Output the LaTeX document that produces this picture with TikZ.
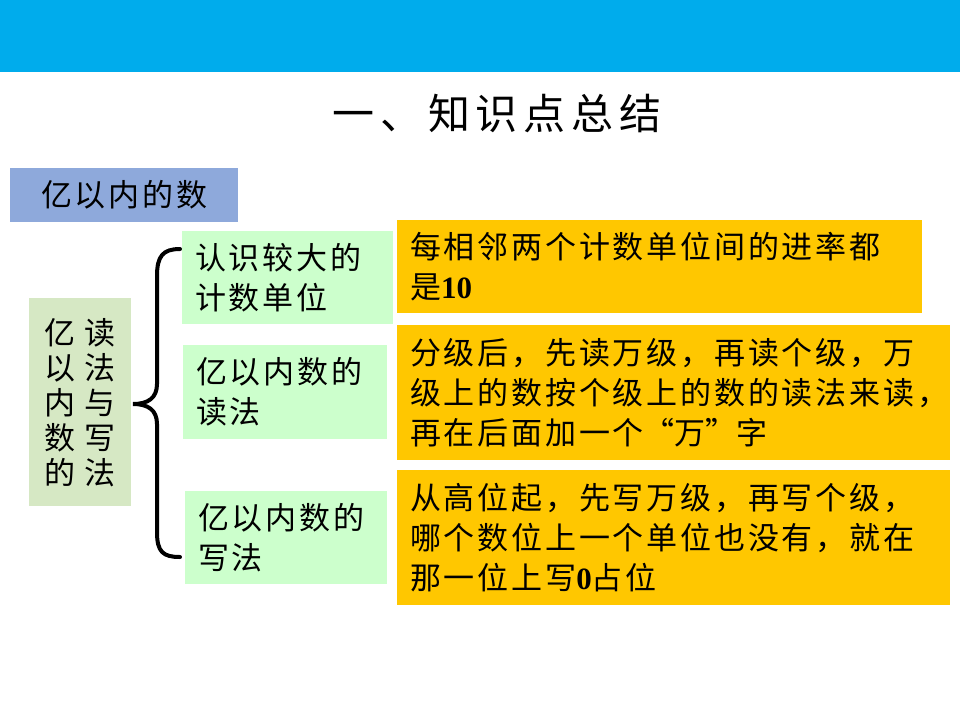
\documentclass[tikz,border=0pt]{standalone}
\usepackage{fontspec}
\setmainfont{Liberation Serif}
\newfontfamily\cjkfont[LetterSpace=9]{Noto Sans CJK SC}
\newfontfamily\titlefont[LetterSpace=14]{Noto Sans CJK SC}
\usetikzlibrary{positioning}
\definecolor{barblue}{RGB}{0,172,236}
\definecolor{topicblue}{RGB}{142,169,219}
\definecolor{groupgreen}{RGB}{214,232,196}
\definecolor{itemgreen}{RGB}{204,255,204}
\definecolor{noteorange}{RGB}{255,199,0}
\newcommand{\fw}[1]{{\addfontfeatures{RawFeature=+fwid}#1}}

\begin{document}
\begin{tikzpicture}[
    x=1pt, y=-1pt,
    box/.style={anchor=north west, inner ysep=0pt, font=\cjkfont\fontsize{31}{40}\selectfont},
    itembox/.style={box, fill=itemgreen, inner xsep=13pt, align=left},
    notebox/.style={box, fill=noteorange, inner xsep=13pt, align=left},
    brace/.style={draw, line width=4pt, line cap=round},
]
    \useasboundingbox (0,0) rectangle (960,720);
    \fill[barblue] (0,0) rectangle (960,72);
    \node[font=\titlefont\fontsize{42}{48}\selectfont] (title) at (497,113) {一、知识点总结};
    \node[box, fill=topicblue, minimum width=228pt, minimum height=54pt] (topic) at (10,168) {亿以内的数};
    % left group and the three items
    \node[box, fill=groupgreen, minimum width=102pt, minimum height=208pt, align=center,
          font=\cjkfont\fontsize{31}{35}\selectfont] (group) at (29,298)
          {亿\hspace{9pt}读\\以\hspace{9pt}法\\内\hspace{9pt}与\\数\hspace{9pt}写\\的\hspace{9pt}法};
    \node[itembox, text width=185pt, minimum height=93pt] (units) at (182,231) {认识较大的\\计数单位};
    \node[itembox, text width=178pt, minimum height=94pt] (reading) at (183,345) {亿以内数的\\读法};
    \node[itembox, text width=176pt, minimum height=93pt] (writing) at (185,491) {亿以内数的\\写法};
    % notes
    \node[notebox, text width=499pt, minimum height=93pt] (unitsnote) at (397,220)
          {每相邻两个计数单位间的进率都\\是{\rmfamily\bfseries 10}};
    \node[notebox, text width=527pt, minimum height=135pt] (readingnote) at (397,325)
          {分级后，先读万级，再读个级，万\\级上的数按个级上的数的读法来读，\\再在后面加一个\fw{“}万\fw{”}字};
    \node[notebox, text width=527pt, minimum height=135pt] (writingnote) at (397,470)
          {从高位起，先写万级，再写个级，\\哪个数位上一个单位也没有，就在\\那一位上写{\rmfamily\bfseries 0}占位};
    % brace
    \coordinate (bracetop) at (180,249);
    \coordinate (bracebot) at (180,557);
    \coordinate (bracetip) at (133,404);
    \path[brace] (bracetop) .. controls (163,249) and (157,256) .. (157,276) -- (157,384)
        .. controls (157,398) and (148,404) .. (bracetip)
        .. controls (148,404) and (157,410) .. (157,424) -- (157,532)
        .. controls (157,552) and (163,557) .. (bracebot);
\end{tikzpicture}
\end{document}
